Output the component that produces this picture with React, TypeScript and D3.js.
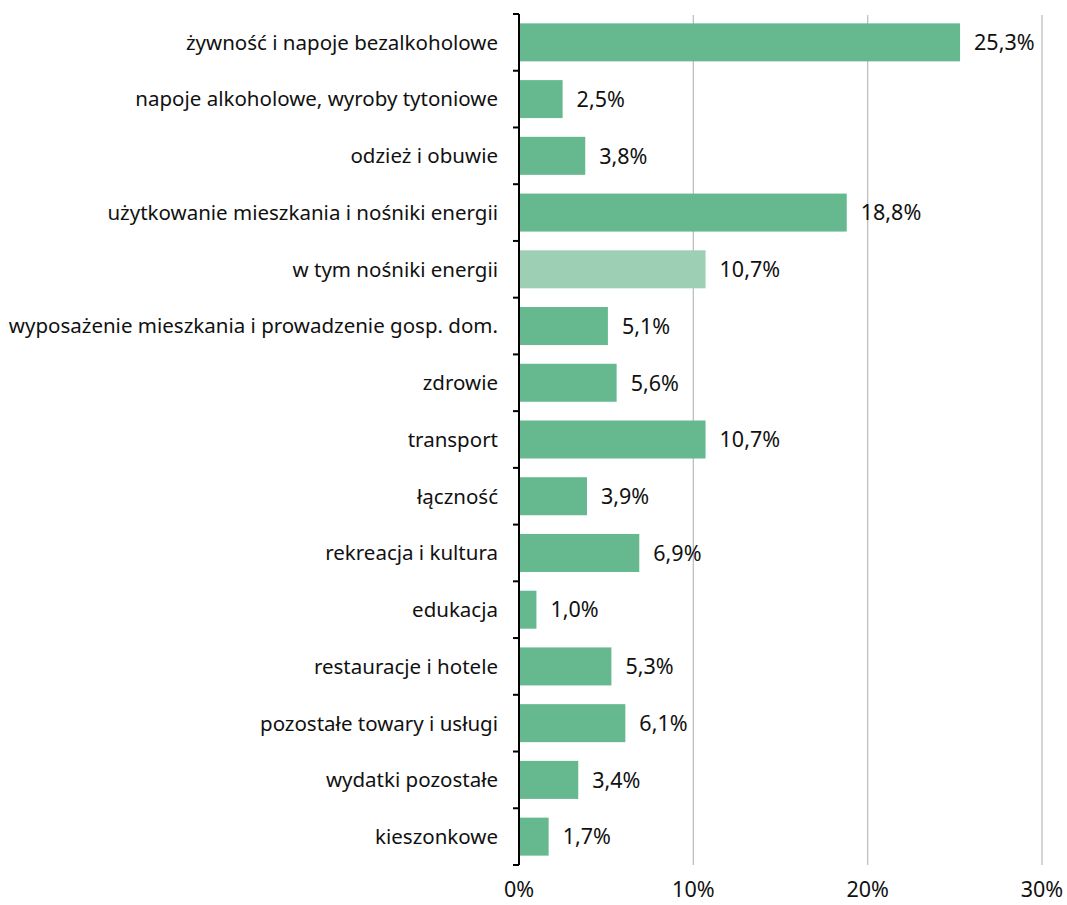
import React, { useEffect, useRef } from 'react'
import * as d3 from 'd3'

const categories = [
  'żywność i napoje bezalkoholowe',
  'napoje alkoholowe, wyroby tytoniowe',
  'odzież i obuwie',
  'użytkowanie mieszkania i nośniki energii',
  'w tym nośniki energii',
  'wyposażenie mieszkania i prowadzenie gosp. dom.',
  'zdrowie',
  'transport',
  'łączność',
  'rekreacja i kultura',
  'edukacja',
  'restauracje i hotele',
  'pozostałe towary i usługi',
  'wydatki pozostałe',
  'kieszonkowe',
]

const values = [25.3, 2.5, 3.8, 18.8, 10.7, 5.1, 5.6, 10.7, 3.9, 6.9, 1.0, 5.3, 6.1, 3.4, 1.7]

// the "w tym" row is a sub-item, drawn lighter
const subItems = ['w tym nośniki energii']

const xTicks = [0, 10, 20, 30]

const FONT = '"Noto Sans", "Open Sans", sans-serif'

const App: React.FC = () => {
  const svgRef = useRef<SVGSVGElement>(null)

  useEffect(() => {
    if (!svgRef.current) return
    const svg = d3.select(svgRef.current)
    svg.selectAll('*').remove()

    const width = 1067
    const height = 905
    const left = 519
    const top = 14
    const bottom = 865

    svg.attr('width', width).attr('height', height)

    const x = d3.scaleLinear().domain([0, 30]).range([left, 1042])
    const y = d3.scaleBand<string>().domain(categories).range([top, bottom]).paddingInner(0.33).paddingOuter(0.165)

    // grid
    svg.append('g')
      .selectAll('line')
      .data(xTicks.filter(t => t > 0))
      .join('line')
      .attr('x1', d => x(d))
      .attr('x2', d => x(d))
      .attr('y1', top + 1)
      .attr('y2', bottom)
      .attr('stroke', '#bfbfbf')
      .attr('stroke-width', 1.3)

    // bars
    svg.append('g')
      .selectAll('rect')
      .data(categories)
      .join('rect')
      .attr('x', x(0))
      .attr('y', d => y(d)!)
      .attr('width', (d, i) => x(values[i]) - x(0))
      .attr('height', y.bandwidth())
      .attr('fill', d => subItems.includes(d) ? '#9dcfb5' : '#66b98f')

    // value labels
    svg.append('g')
      .selectAll('text')
      .data(categories)
      .join('text')
      .attr('x', (d, i) => x(values[i]) + 14)
      .attr('y', d => y(d)! + y.bandwidth() / 2)
      .attr('dy', '0.36em')
      .style('font-family', FONT)
      .style('font-size', '21.5px')
      .style('fill', '#111')
      .text((d, i) => values[i].toFixed(1).replace('.', ',') + '%')

    // category labels
    svg.append('g')
      .selectAll('text')
      .data(categories)
      .join('text')
      .attr('x', left - 21)
      .attr('y', d => y(d)! + y.bandwidth() / 2)
      .attr('dy', '0.36em')
      .attr('text-anchor', 'end')
      .style('font-family', FONT)
      .style('font-size', '20.5px')
      .style('fill', '#111')
      .text(d => d)

    // y axis line and category boundary ticks
    const yAxis = svg.append('g')
    yAxis.append('line')
      .attr('x1', left).attr('x2', left)
      .attr('y1', top).attr('y2', bottom)
      .attr('stroke', '#000').attr('stroke-width', 2)
    const step = (bottom - top) / categories.length
    yAxis.selectAll('line.tick')
      .data(d3.range(categories.length + 1))
      .join('line')
      .attr('class', 'tick')
      .attr('x1', left - 6).attr('x2', left)
      .attr('y1', i => top + i * step)
      .attr('y2', i => top + i * step)
      .attr('stroke', '#000').attr('stroke-width', 2)

    // x tick labels
    svg.append('g')
      .selectAll('text')
      .data(xTicks)
      .join('text')
      .attr('x', d => x(d))
      .attr('y', 897)
      .attr('text-anchor', 'middle')
      .style('font-family', FONT)
      .style('font-size', '21.5px')
      .style('fill', '#111')
      .text(d => d + '%')
  }, [])

  return <svg ref={svgRef} style={{ display: 'block', position: 'absolute', left: 0, top: 0 }}></svg>
}

export default App
